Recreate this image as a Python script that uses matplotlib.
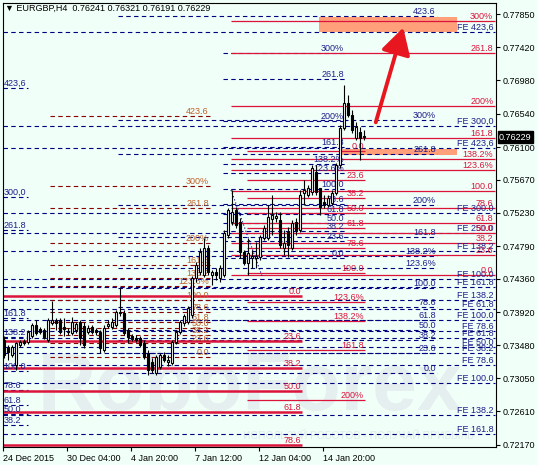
import numpy as np
import matplotlib.pyplot as plt
from matplotlib.patches import Rectangle, FancyArrowPatch
from matplotlib.transforms import blended_transform_factory

plt.rcParams['font.family'] = ['Liberation Sans', 'DejaVu Sans']

# EURGBP H4 candles, bar 0 = 24 Dec 2015
opens = [0.73553, 0.73460, 0.73355, 0.73223, 0.73487, 0.73539, 0.73526, 0.73605, 0.73751, 0.73698,
         0.73685, 0.73553, 0.73777, 0.73817, 0.73817, 0.73724, 0.73671, 0.73645, 0.73685, 0.73790,
         0.73737, 0.73658, 0.73724, 0.73685, 0.73658, 0.73421, 0.73737, 0.73724, 0.73751, 0.73909,
         0.73909, 0.73685, 0.73605, 0.73579, 0.73579, 0.73513, 0.73381, 0.73262, 0.73117, 0.73196,
         0.73355, 0.73262, 0.73249, 0.73526, 0.73658, 0.73777, 0.73790, 0.73883, 0.74371, 0.74450,
         0.74411, 0.74767, 0.74411, 0.74450, 0.74371, 0.74411, 0.74939, 0.75110, 0.75269, 0.75110,
         0.74714, 0.74569, 0.74635, 0.74635, 0.74648, 0.74899, 0.74899, 0.75150, 0.75163, 0.75137,
         0.74767, 0.74978, 0.74767, 0.75110, 0.75005, 0.75493, 0.75467, 0.75506, 0.75770, 0.75559,
         0.75374, 0.75335, 0.75361, 0.75493, 0.75863, 0.76351, 0.76681, 0.76523, 0.76219, 0.76298,
         0.76241]
highs = [0.73605, 0.73487, 0.73487, 0.73526, 0.73553, 0.73566, 0.73685, 0.73777, 0.73817, 0.73724,
         0.73711, 0.73843, 0.74067, 0.73843, 0.73843, 0.73843, 0.73711, 0.73856, 0.73790, 0.73817,
         0.73790, 0.73751, 0.73751, 0.73711, 0.73685, 0.73751, 0.73817, 0.73843, 0.73949, 0.74239,
         0.73949, 0.73711, 0.73632, 0.73619, 0.73605, 0.73553, 0.73421, 0.73315, 0.73355, 0.73381,
         0.73394, 0.73355, 0.73553, 0.73685, 0.73817, 0.73896, 0.74001, 0.74397, 0.74582, 0.74767,
         0.74899, 0.74807, 0.74477, 0.74503, 0.74543, 0.75005, 0.75295, 0.75533, 0.75308, 0.75163,
         0.74741, 0.74899, 0.74741, 0.74846, 0.74939, 0.75071, 0.75335, 0.75467, 0.75242, 0.75242,
         0.75005, 0.75044, 0.75137, 0.75163, 0.75533, 0.75665, 0.75599, 0.75863, 0.75863, 0.75559,
         0.75467, 0.75467, 0.75533, 0.75889, 0.76391, 0.76919, 0.76787, 0.76589, 0.76430, 0.76364,
         0.76321]
lows = [0.73315, 0.73289, 0.73328, 0.73157, 0.73460, 0.73487, 0.73500, 0.73579, 0.73619, 0.73632,
        0.73566, 0.73526, 0.73751, 0.73685, 0.73632, 0.73605, 0.73619, 0.73619, 0.73645, 0.73487,
        0.73447, 0.73632, 0.73632, 0.73619, 0.73381, 0.73394, 0.73711, 0.73698, 0.73724, 0.73869,
        0.73619, 0.73513, 0.73539, 0.73526, 0.73460, 0.73302, 0.73091, 0.73117, 0.73091, 0.73170,
        0.73262, 0.73209, 0.73223, 0.73500, 0.73632, 0.73737, 0.73764, 0.73843, 0.74318, 0.74411,
        0.74384, 0.74411, 0.74279, 0.74345, 0.74318, 0.74384, 0.74899, 0.75071, 0.75031, 0.74635,
        0.74543, 0.74411, 0.74503, 0.74503, 0.74609, 0.74873, 0.74873, 0.74939, 0.75110, 0.74767,
        0.74675, 0.74648, 0.74741, 0.74939, 0.74978, 0.75335, 0.75440, 0.75467, 0.75467, 0.75203,
        0.75295, 0.75308, 0.75335, 0.75467, 0.75823, 0.76325, 0.76496, 0.76285, 0.76193, 0.75929,
        0.76191]
closes = [0.73355, 0.73394, 0.73460, 0.73513, 0.73526, 0.73513, 0.73658, 0.73751, 0.73645, 0.73658,
          0.73592, 0.73817, 0.73817, 0.73777, 0.73658, 0.73698, 0.73658, 0.73790, 0.73764, 0.73579,
          0.73487, 0.73711, 0.73658, 0.73658, 0.73447, 0.73711, 0.73764, 0.73790, 0.73922, 0.73922,
          0.73645, 0.73592, 0.73566, 0.73553, 0.73487, 0.73328, 0.73157, 0.73157, 0.73328, 0.73355,
          0.73289, 0.73289, 0.73526, 0.73658, 0.73790, 0.73869, 0.73975, 0.74371, 0.74543, 0.74714,
          0.74767, 0.74450, 0.74450, 0.74411, 0.74503, 0.74965, 0.75269, 0.75242, 0.75071, 0.74714,
          0.74569, 0.74701, 0.74661, 0.74661, 0.74912, 0.75031, 0.75176, 0.75203, 0.75189, 0.74807,
          0.74833, 0.74807, 0.75097, 0.75005, 0.75467, 0.75533, 0.75559, 0.75823, 0.75506, 0.75308,
          0.75335, 0.75427, 0.75493, 0.75863, 0.76351, 0.76681, 0.76523, 0.76325, 0.76364, 0.76219,
          0.76229]

time_ticks = [0, 16, 32, 48, 64, 80]
time_labels = ["24 Dec 2015", "30 Dec 04:00", "4 Jan 20:00", "7 Jan 12:00", "12 Jan 04:00", "14 Jan 20:00"]
price_ticks = [0.77850, 0.77420, 0.76980, 0.76540, 0.76100, 0.75670, 0.75230,
               0.74790, 0.74360, 0.73920, 0.73480, 0.73050, 0.72610, 0.72170]

# red retracement, right side
r1_labels = ["300%", "261.8", "200%", "161.8", "138.2%", "123.6%", "100.0", "78.6", "61.8", "50.0", "38.2", "23.6", "0.0"]
r1_prices = [0.77763, 0.77341, 0.76641, 0.76219, 0.75942, 0.75797, 0.75519, 0.75295, 0.75097, 0.74965, 0.74833, 0.74675, 0.74411]
# red retracement, middle
r2_labels = ["0.0", "23.6", "38.2", "50.0", "61.8", "78.6", "100.0", "123.6%", "138.2%", "161.8", "200%"]
r2_prices = [0.76047, 0.75665, 0.75427, 0.75229, 0.75031, 0.74767, 0.74437, 0.74054, 0.73803, 0.73421, 0.72761]
# red retracement, bottom left (thick)
r3_labels = ["0.0", "23.6", "38.2", "50.0", "61.8", "78.6"]
r3_prices = [0.74133, 0.73539, 0.73183, 0.72879, 0.72602, 0.72167]
# dark red dashed fibo
d1_labels = ["423.6", "300%", "261.8", "200%", "161.8", "138.2", "123.6%", "100.0", "78.6", "61.8", "50.0", "38.2", "23.6", "0.0"]
d1_prices = [0.76509, 0.75585, 0.75295, 0.74833, 0.74543, 0.74371, 0.74265, 0.74081, 0.73922, 0.73790, 0.73711, 0.73619, 0.73513, 0.73328]
# navy dashed fibo ending at ~108
n2_labels = ["423.6", "300%", "261.8", "200%", "161.8", "138.2%", "123.6%", "100.0", "78.6", "61.8", "50.0", "38.2", "23.6", "0.0"]
n2_prices = [0.77829, 0.76457, 0.76008, 0.75335, 0.74912, 0.74661, 0.74503, 0.74239, 0.73988, 0.73817, 0.73685, 0.73553, 0.73381, 0.73117]
# navy dashed fibo in the middle
n5_labels = ["300%", "261.8", "200%", "161.8", "138.2%", "123.6%", "100.0", "78.6", "61.8", "50.0", "38.2", "23.6", "0.0"]
n5_prices = [0.77341, 0.76998, 0.76443, 0.76100, 0.75876, 0.75757, 0.75546, 0.75348, 0.75216, 0.75097, 0.74991, 0.74859, 0.74635]
# navy short levels at left edge
n1_labels = ["423,6", "300,0", "261.8", "161.8", "138.2", "100.0", "78.6", "61.8", "50.0", "38.2"]
n1_prices = [0.76879, 0.75440, 0.75005, 0.73843, 0.73592, 0.73143, 0.72893, 0.72695, 0.72576, 0.72431]
# fibo expansions across the chart
fe_labels = ["FE 423,6", "FE 300,0", "FE 423,6", "FE 300.0", "FE 250.0", "FE 138.2", "FE 100.0", "FE 161.8",
             "FE 138.2", "FE 61.8", "FE 100.0", "FE 78.6", "FE 61.8", "FE 50.0", "FE 38.2", "FE 78.6",
             "FE 100.0", "FE 138.2", "FE 161.8"]
fe_prices = [0.77618, 0.76377, 0.76087, 0.75229, 0.74965, 0.74727, 0.74358, 0.74252, 0.74081, 0.73962,
             0.73817, 0.73671, 0.73579, 0.73460, 0.73381, 0.73223, 0.72985, 0.72563, 0.72312]

# target zones, arrow and anchor line (bar, price)
zone_top = [0.77816, 0.76074]
zone_bottom = [0.77618, 0.75995]
zone_start = [78.75, 84.0]
zone_end = [113.25, 113.25]
arrow_from = (92.75, 0.76391)
arrow_to = (100.0, 0.77711)
anchor_bars = [56.75, 64.5]
anchor_prices = [0.75533, 0.74398]

BG = '#F0FFF8'
NAVY = '#000080'
NAVY_TXT = '#1E1E8C'
RED = '#DC143C'
DRED = '#8B0000'
DRED_TXT = '#C0602A'
DASH = (0, (4, 3))
FS = 6.5


def fib_group(ax, prices, labels, x0, x1, color, txt_color, ls, lw, lx=None, ha='right'):
    ax.hlines(prices, x0, x1, colors=color, linestyles=ls, linewidth=lw, zorder=2)
    if lx is None:
        lx = x1 - 0.3
    for p, t in zip(prices, labels):
        ax.text(lx, p, t, ha=ha, va='bottom', fontsize=FS, color=txt_color, zorder=3)


def draw_candles(ax):
    for i in range(len(opens)):
        o, h, l, c = opens[i], highs[i], lows[i], closes[i]
        ax.vlines(i, l, h, color='black', linewidth=0.8, zorder=5)
        lo = min(o, c)
        hgt = max(abs(c - o), 0.00002)
        face = 'white' if c >= o else 'black'
        ax.add_patch(Rectangle((i - 0.35, lo), 0.7, hgt, facecolor=face,
                               edgecolor='black', linewidth=0.8, zorder=6))


def main():
    fig = plt.figure(figsize=(5.38, 4.65), dpi=100, facecolor=BG)
    ax = fig.add_axes([3 / 538, 18 / 465, 493 / 538, 444 / 465])
    ax.set_facecolor(BG)
    ax.set_xlim(-0.25, 123)
    ax.set_ylim(0.72140, 0.78001)

    # watermark
    ax.text(0.5, 0.13, "RoboForex", transform=ax.transAxes, ha='center', va='center',
            fontsize=58, fontweight='bold', color='#E5EFEF', zorder=0)
    ax.text(0.72, 0.025, "ИСПОЛЬЗУЙ РОБОТОВ - ПОЛУЧАЙ ПРИБЫЛЬ", transform=ax.transAxes,
            ha='center', va='center', fontsize=7.5, color='#E0EBEB', zorder=0)

    # target zones
    for y0, y1, x0, x1 in zip(zone_bottom, zone_top, zone_start, zone_end):
        ax.add_patch(Rectangle((x0, y0), x1 - x0, y1 - y0, facecolor='#FFA07A',
                               edgecolor='none', zorder=1.5))

    fib_group(ax, fe_prices, fe_labels, -0.25, 122.75, NAVY, NAVY_TXT, DASH, 0.8, lx=122.3)
    fib_group(ax, n1_prices, n1_labels, -0.25, 6, NAVY, NAVY_TXT, DASH, 0.8, lx=-0.1, ha='left')
    fib_group(ax, n2_prices, n2_labels, 28.5, 108.25, NAVY, NAVY_TXT, DASH, 0.8)
    fib_group(ax, n5_prices, n5_labels, 54.75, 85.25, NAVY, NAVY_TXT, DASH, 0.8)
    fib_group(ax, d1_prices, d1_labels, 11.5, 51.5, DRED, DRED_TXT, DASH, 0.8)
    fib_group(ax, r1_prices, r1_labels, 56.75, 122.75, RED, RED, '-', 0.9, lx=122.3)
    fib_group(ax, r2_prices, r2_labels, 60.75, 90.25, RED, RED, '-', 0.9)
    fib_group(ax, r3_prices, r3_labels, -0.25, 74.5, RED, RED, '-', 1.8)

    ax.plot(anchor_bars, anchor_prices, color=NAVY, linestyle=(0, (1, 2)), linewidth=0.8, zorder=2)

    draw_candles(ax)

    arrow = FancyArrowPatch(arrow_from, arrow_to, arrowstyle='-|>,head_length=8,head_width=4.5',
                            color='#E8161E', linewidth=2.8, mutation_scale=2, zorder=7)
    ax.add_patch(arrow)

    # header
    ax.text(0.004, 0.988, "\u25bc EURGBP,H4  0.76241 0.76321 0.76191 0.76229", transform=ax.transAxes,
            ha='left', va='center', fontsize=FS, color='black', zorder=8)

    # axes
    ax.yaxis.tick_right()
    ax.set_yticks(price_ticks)
    ax.set_yticklabels(["%.5f" % p for p in price_ticks])
    ax.set_xticks([t - 0.25 for t in time_ticks])
    ax.set_xticklabels(time_labels, ha='left')
    ax.tick_params(axis='both', labelsize=FS, length=3, width=0.8, pad=2, colors='black')
    for s in ax.spines.values():
        s.set_color('black')
        s.set_linewidth(0.8)

    # current price box
    trans = blended_transform_factory(ax.transAxes, ax.transData)
    ax.text(1.006, closes[-1], "%.5f" % closes[-1], transform=trans, ha='left', va='center',
            fontsize=FS, color='white', zorder=9, clip_on=False,
            bbox=dict(boxstyle='square,pad=0.15', facecolor='black', edgecolor='black'))

    fig.savefig('out.png', dpi=100, facecolor=BG)


if __name__ == "__main__":
    main()
